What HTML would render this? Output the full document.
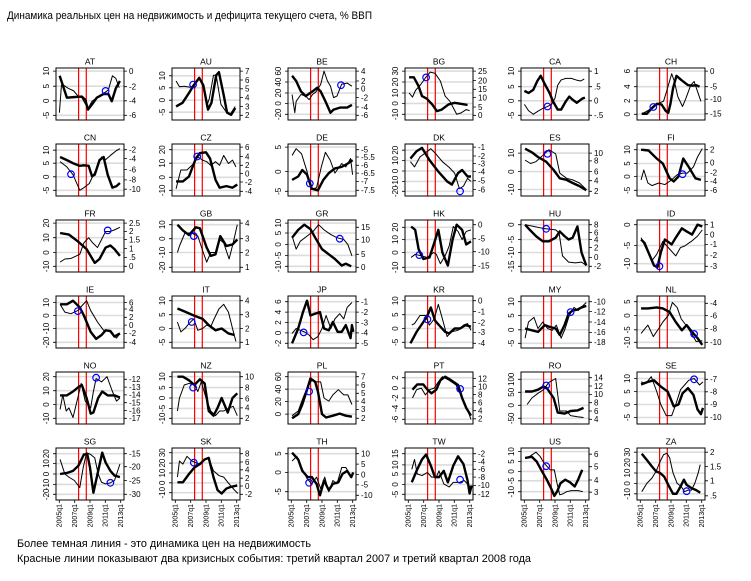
<!DOCTYPE html>
<html><head><meta charset="utf-8">
<style>
html,body{margin:0;padding:0;background:#fff}
svg{display:block}
text{font-family:"Liberation Sans","DejaVu Sans",sans-serif;font-size:8px;fill:#000}
.g{stroke:#dcdcdc;stroke-width:1.6;fill:none}
.r{stroke:#f00;stroke-width:1.2;fill:none}
.b{fill:none;stroke:#000;stroke-width:1}
.tk{stroke:#000;stroke-width:.8;fill:none}
.c{fill:none;stroke:#0000ff;stroke-width:1.2}
.k{fill:none;stroke:#000;stroke-width:2.4;vector-effect:non-scaling-stroke;stroke-linejoin:round}
.t{fill:none;stroke:#000;stroke-width:1;vector-effect:non-scaling-stroke;stroke-linejoin:round}
.l text{text-anchor:middle}
.ti{text-anchor:middle;font-size:8.5px}
.x text{text-anchor:end;font-size:7px}
.big{font-size:11px}
</style></head><body>
<svg width="751" height="581" viewBox="0 0 751 581" xmlns="http://www.w3.org/2000/svg">
<rect width="751" height="581" fill="#fff"/>
<text class="big" x="7" y="19" textLength="365" lengthAdjust="spacingAndGlyphs">Динамика реальных цен на недвижимость и дефицита текущего счета, % ВВП</text>

<!-- ROW 1 -->
<g transform="translate(56,68)">
<path class="g" d="M0 3.1H68M0 18.2H68M0 32.8H68M0 47.3H68"/>
<path class="r" d="M22.6 0V52M30.3 0V52"/>
<svg width="68" height="52" viewBox="0 0 100 100" preserveAspectRatio="none" overflow="visible">
<polyline class="t" points="5,86 8,33 11,33 18,39 26,44 33,55 38,57 47,78 53,64 65,52 72,47 77,42 83,15 88,20 93,38"/>
<polyline class="k" points="5.4,15 16,57 26,56 38,55 43,61 47,80 53,70 60,57 70,50 77,50 82,64 88,39 94,25"/>
</svg>
<circle class="c" cx="49.6" cy="22.9" r="3.3"/>
<rect class="b" width="68" height="52"/>
<path class="tk" d="M-3 3.1H0M-3 18.2H0M-3 32.8H0M-3 47.3H0M68 3.1H71M68 18.7H71M68 32.8H71M68 47.3H71"/>
<text class="ti" x="34" y="-3.5">AT</text>
<g class="l"><text transform="translate(-7,3.1)rotate(-90)">10</text><text transform="translate(-7,18.2)rotate(-90)">5</text><text transform="translate(-7,32.8)rotate(-90)">0</text><text transform="translate(-7,47.3)rotate(-90)">-5</text></g>
<text x="73" y="5.9">0</text><text x="73" y="21.5">-2</text><text x="73" y="35.6">-4</text><text x="73" y="50.1">-6</text>
</g>

<g transform="translate(172,68)">
<path class="g" d="M0 7.8H68M0 19.8H68M0 32.2H68M0 44.2H68"/>
<path class="r" d="M22.6 0V52M30.3 0V52"/>
<svg width="68" height="52" viewBox="0 0 100 100" preserveAspectRatio="none" overflow="visible">
<polyline class="t" points="6,25 11,36 18,35 27,37 33,33 40,20 46,36 51,74 55,58 61,14 65,14 72,70 79,83 86,88 93,74"/>
<polyline class="k" points="6,74 15.5,67 25,48 32,33 40,19 46,33 53,80 58,67 65,14 69,8 76,52 81,86 87,90 93,77"/>
</svg>
<circle class="c" cx="21.1" cy="16.6" r="3.3"/>
<rect class="b" width="68" height="52"/>
<path class="tk" d="M-3 7.8H0M-3 19.8H0M-3 32.2H0M-3 44.2H0M68 3.1H71M68 12H71M68 20.8H71M68 29.6H71M68 38.5H71M68 47.3H71"/>
<text class="ti" x="34" y="-3.5">AU</text>
<g class="l"><text transform="translate(-7,7.8)rotate(-90)">10</text><text transform="translate(-7,19.8)rotate(-90)">5</text><text transform="translate(-7,32.2)rotate(-90)">0</text><text transform="translate(-7,44.2)rotate(-90)">-5</text></g>
<text x="73" y="5.9">7</text><text x="73" y="14.8">6</text><text x="73" y="23.6">5</text><text x="73" y="32.4">4</text><text x="73" y="41.3">3</text><text x="73" y="50.1">2</text>
</g>

<g transform="translate(288,68)">
<path class="g" d="M0 3.1H68M0 14H68M0 25H68M0 35.4H68M0 46.3H68"/>
<path class="r" d="M22.6 0V52M30.3 0V52"/>
<svg width="68" height="52" viewBox="0 0 100 100" preserveAspectRatio="none" overflow="visible">
<polyline class="t" points="6,51 10,86 12,64 19,51 26,54 31,61 36,51 41,46 45,38 48,32 53,6 58,25 62.5,35 67,57 72,54 79,31 87,29 94,35"/>
<polyline class="k" points="6,15 12,25 19,45 26,54 36,45 43,38 48,45 55,64 62.5,86 67,80 77,76 87,76 94,71"/>
</svg>
<circle class="c" cx="53" cy="17.2" r="3.3"/>
<rect class="b" width="68" height="52"/>
<path class="tk" d="M-3 3.1H0M-3 14H0M-3 25H0M-3 35.4H0M-3 46.3H0M68 3.1H71M68 13H71M68 20.8H71M68 29.6H71M68 39H71M68 47.3H71"/>
<text class="ti" x="34" y="-3.5">BE</text>
<g class="l"><text transform="translate(-7,3.1)rotate(-90)">60</text><text transform="translate(-7,14)rotate(-90)">40</text><text transform="translate(-7,25)rotate(-90)">20</text><text transform="translate(-7,35.4)rotate(-90)">0</text><text transform="translate(-7,46.3)rotate(-90)">-20</text></g>
<text x="73" y="5.9">4</text><text x="73" y="15.8">2</text><text x="73" y="23.6">0</text><text x="73" y="32.4">-2</text><text x="73" y="41.8">-4</text><text x="73" y="50.1">-6</text>
</g>

<g transform="translate(405,68)">
<path class="g" d="M0 3.1H68M0 14H68M0 25H68M0 35.4H68M0 46.3H68"/>
<path class="r" d="M22.6 0V52M30.3 0V52"/>
<svg width="68" height="52" viewBox="0 0 100 100" preserveAspectRatio="none" overflow="visible">
<polyline class="t" points="6,48 11,56 15.5,43 23,32 30,19 37,8 44,10 52,25 59,54 66,64 76,89 83,86 90,80 95,82"/>
<polyline class="k" points="6,18 13,18 20,35 25,54 32,59 40,70 47,83 54,80 64,70 73,67 83,69 92,71"/>
</svg>
<circle class="c" cx="21.1" cy="9.4" r="3.3"/>
<rect class="b" width="68" height="52"/>
<path class="tk" d="M-3 3.1H0M-3 14H0M-3 25H0M-3 35.4H0M-3 46.3H0M68 3.1H71M68 12.5H71M68 21.3H71M68 29.6H71M68 39H71M68 47.3H71"/>
<text class="ti" x="34" y="-3.5">BG</text>
<g class="l"><text transform="translate(-7,3.1)rotate(-90)">30</text><text transform="translate(-7,14)rotate(-90)">20</text><text transform="translate(-7,25)rotate(-90)">10</text><text transform="translate(-7,35.4)rotate(-90)">0</text><text transform="translate(-7,46.3)rotate(-90)">-10</text></g>
<text x="73" y="5.9">25</text><text x="73" y="15.3">20</text><text x="73" y="24.1">15</text><text x="73" y="32.4">10</text><text x="73" y="41.8">5</text><text x="73" y="50.1">0</text>
</g>

<g transform="translate(521,68)">
<path class="g" d="M0 3.1H68M0 18.7H68M0 32.8H68M0 47.3H68"/>
<path class="r" d="M22.6 0V52M30.3 0V52"/>
<svg width="68" height="52" viewBox="0 0 100 100" preserveAspectRatio="none" overflow="visible">
<polyline class="t" points="5,70 11,82 18,89 25,83 33,77 39,74 45,70 50,58 54,33 59,23 66,20 74,20 81,23 88,25 93,21"/>
<polyline class="k" points="5,44 11,48 18,42 24,25 29,15 35,31 42,48 47,64 54,80 59,80 66,64 71,55 76,61 82,67 90,59 94,57"/>
</svg>
<circle class="c" cx="26.5" cy="38.5" r="3.3"/>
<rect class="b" width="68" height="52"/>
<path class="tk" d="M-3 3.1H0M-3 18.7H0M-3 32.8H0M-3 47.3H0M68 3.1H71M68 18.7H71M68 32.8H71M68 47.3H71"/>
<text class="ti" x="34" y="-3.5">CA</text>
<g class="l"><text transform="translate(-7,3.1)rotate(-90)">10</text><text transform="translate(-7,18.7)rotate(-90)">5</text><text transform="translate(-7,32.8)rotate(-90)">0</text><text transform="translate(-7,47.3)rotate(-90)">-5</text></g>
<text x="73" y="5.9">1</text><text x="73" y="21.5">.5</text><text x="73" y="35.6">0</text><text x="73" y="50.1">-.5</text>
</g>

<g transform="translate(637,68)">
<path class="g" d="M0 3.1H68M0 18.7H68M0 32.8H68M0 46.3H68"/>
<path class="r" d="M22.6 0V52M30.3 0V52"/>
<svg width="68" height="52" viewBox="0 0 100 100" preserveAspectRatio="none" overflow="visible">
<polyline class="t" points="7,88 14.5,83 22,77 29,69 39,64 43.5,45 51,11 55,26 60,55 67,74 72,58 79,33 84,26 89,45 94,64"/>
<polyline class="k" points="7,88 14.5,88 22,77 29,69 36,70 42.5,83 46,86 49,70 53,39 58,15 65,23 75,33 82,34 87,33 92,36"/>
</svg>
<circle class="c" cx="16.3" cy="39" r="3.3"/>
<rect class="b" width="68" height="52"/>
<path class="tk" d="M-3 3.1H0M-3 18.7H0M-3 32.8H0M-3 46.3H0M68 3.1H71M68 18.7H71M68 31.2H71M68 45.8H71"/>
<text class="ti" x="34" y="-3.5">CH</text>
<g class="l"><text transform="translate(-7,3.1)rotate(-90)">6</text><text transform="translate(-7,18.7)rotate(-90)">4</text><text transform="translate(-7,32.8)rotate(-90)">2</text><text transform="translate(-7,46.3)rotate(-90)">0</text></g>
<text x="73" y="5.9">0</text><text x="73" y="21.5">-5</text><text x="73" y="34">-10</text><text x="73" y="48.6">-15</text>
</g>

<!-- ROW 2 -->
<g transform="translate(56,144)">
<path class="g" d="M0 6.2H68M0 19.2H68M0 32.8H68M0 46.3H68"/>
<path class="r" d="M22.6 0V52M30.3 0V52"/>
<svg width="68" height="52" viewBox="0 0 100 100" preserveAspectRatio="none" overflow="visible">
<polyline class="t" points="6,34 16,44 25,59 35,89 41,84 49,76 54,62 61,44 67,25 73,30 80,22 89,12.5 94,9"/>
<polyline class="k" points="6,25 16,31 25,37 35,42 41,41 48,42 53,62 57,59 64,31 70,25 76,59 83,84 89,81 94,75"/>
</svg>
<circle class="c" cx="15" cy="30.2" r="3.3"/>
<rect class="b" width="68" height="52"/>
<path class="tk" d="M-3 6.2H0M-3 19.2H0M-3 32.8H0M-3 46.3H0M68 5.7H71M68 14.6H71M68 25.5H71M68 35.9H71M68 45.2H71"/>
<text class="ti" x="34" y="-3.5">CN</text>
<g class="l"><text transform="translate(-7,6.2)rotate(-90)">10</text><text transform="translate(-7,19.2)rotate(-90)">5</text><text transform="translate(-7,32.8)rotate(-90)">0</text><text transform="translate(-7,46.3)rotate(-90)">-5</text></g>
<text x="73" y="8.5">-2</text><text x="73" y="17.4">-4</text><text x="73" y="28.3">-6</text><text x="73" y="38.7">-8</text><text x="73" y="48">-10</text>
</g>

<g transform="translate(172,144)">
<path class="g" d="M0 5.7H68M0 19.2H68M0 33.3H68M0 46.3H68"/>
<path class="r" d="M22.6 0V52M30.3 0V52"/>
<svg width="68" height="52" viewBox="0 0 100 100" preserveAspectRatio="none" overflow="visible">
<polyline class="t" points="6,86 13,50 22,50 32,37.5 38,25 45,31 51,34 57,41 64,34 70,41 76,22 83,37.5 89,31 94,44"/>
<polyline class="k" points="6,72 16,72 25,62.5 35,28 41,17.5 50,16 56,28 64,69 70,84 80,81 89,84 96,78"/>
</svg>
<circle class="c" cx="25.2" cy="12.5" r="3.3"/>
<rect class="b" width="68" height="52"/>
<path class="tk" d="M-3 5.7H0M-3 19.2H0M-3 33.3H0M-3 46.3H0M68 3.1H71M68 12.5H71M68 21.3H71M68 29.6H71M68 38H71M68 47.3H71"/>
<text class="ti" x="34" y="-3.5">CZ</text>
<g class="l"><text transform="translate(-7,5.7)rotate(-90)">20</text><text transform="translate(-7,19.2)rotate(-90)">10</text><text transform="translate(-7,33.3)rotate(-90)">0</text><text transform="translate(-7,46.3)rotate(-90)">-10</text></g>
<text x="73" y="5.9">6</text><text x="73" y="15.3">4</text><text x="73" y="24.1">2</text><text x="73" y="32.4">0</text><text x="73" y="40.8">-2</text><text x="73" y="50.1">-4</text>
</g>

<g transform="translate(288,144)">
<path class="g" d="M0 3.1H68M0 27.6H68M0 47.3H68"/>
<path class="r" d="M22.6 0V52M30.3 0V52"/>
<svg width="68" height="52" viewBox="0 0 100 100" preserveAspectRatio="none" overflow="visible">
<polyline class="t" points="6,22 12,9 20,19 28,53 34,87.5 42,84 49,44 55,16 62,31 69,56 79,37.5 85,44 92,28 95,59"/>
<polyline class="k" points="6,69 15,62.5 21,50 28,59 35,86 44,89 52,69 60,56 69,47 79,44 88,37.5 95,31"/>
</svg>
<circle class="c" cx="21.8" cy="39.5" r="3.3"/>
<rect class="b" width="68" height="52"/>
<path class="tk" d="M-3 3.1H0M-3 27.6H0M-3 47.3H0M68 5.7H71M68 13H71M68 21.3H71M68 29.1H71M68 37.4H71M68 46.3H71"/>
<text class="ti" x="34" y="-3.5">DE</text>
<g class="l"><text transform="translate(-7,3.1)rotate(-90)">5</text><text transform="translate(-7,27.6)rotate(-90)">0</text><text transform="translate(-7,47.3)rotate(-90)">-5</text></g>
<text x="73" y="8.5">-5</text><text x="73" y="15.8">-5.5</text><text x="73" y="24.1">-6</text><text x="73" y="31.9">-6.5</text><text x="73" y="40.2">-7</text><text x="73" y="49.1">-7.5</text>
</g>

<g transform="translate(405,144)">
<path class="g" d="M0 6.2H68M0 16.6H68M0 27H68M0 37.4H68M0 47.3H68"/>
<path class="r" d="M22.6 0V52M30.3 0V52"/>
<svg width="68" height="52" viewBox="0 0 100 100" preserveAspectRatio="none" overflow="visible">
<polyline class="t" points="8,34 14,44 22,25 31,16 38,9 46,20 55,34 65,45 73,56 80,86 86,81 92,66 97,72"/>
<polyline class="k" points="8,28 17,14 25,7.5 36,31 49,53 62,72 69,78 78,56 84,50 92,62.5 97,62.5"/>
</svg>
<circle class="c" cx="55.1" cy="47.3" r="3.3"/>
<rect class="b" width="68" height="52"/>
<path class="tk" d="M-3 6.2H0M-3 16.6H0M-3 27H0M-3 37.4H0M-3 47.3H0M68 3.1H71M68 12H71M68 19.5H71M68 27.6H71M68 36.7H71M68 45.5H71"/>
<text class="ti" x="34" y="-3.5">DK</text>
<g class="l"><text transform="translate(-7,6.2)rotate(-90)">20</text><text transform="translate(-7,16.6)rotate(-90)">10</text><text transform="translate(-7,27)rotate(-90)">0</text><text transform="translate(-7,37.4)rotate(-90)">-10</text><text transform="translate(-7,47.3)rotate(-90)">-20</text></g>
<text x="73" y="5.9">-1</text><text x="73" y="14.8">-2</text><text x="73" y="22.3">-3</text><text x="73" y="30.4">-4</text><text x="73" y="39.5">-5</text><text x="73" y="48.3">-6</text>
</g>

<g transform="translate(521,144)">
<path class="g" d="M0 9.1H68M0 27.6H68M0 45.5H68"/>
<path class="r" d="M22.6 0V52M30.3 0V52"/>
<svg width="68" height="52" viewBox="0 0 100 100" preserveAspectRatio="none" overflow="visible">
<polyline class="t" points="6,31 14,37.5 22,34 32,22 41,11 51,19 57,56 67,66 76,69 86,75 96,87.5"/>
<polyline class="k" points="6,9 16,16 25,25 37,34 48,50 57,66 67,69 76,75 86,81 96,89"/>
</svg>
<circle class="c" cx="26.5" cy="9.9" r="3.3"/>
<rect class="b" width="68" height="52"/>
<path class="tk" d="M-3 9.1H0M-3 27.6H0M-3 45.5H0M68 9.1H71M68 16.9H71M68 27.6H71M68 36.7H71M68 47.3H71"/>
<text class="ti" x="34" y="-3.5">ES</text>
<g class="l"><text transform="translate(-7,9.1)rotate(-90)">10</text><text transform="translate(-7,27.6)rotate(-90)">0</text><text transform="translate(-7,45.5)rotate(-90)">-10</text></g>
<text x="73" y="11.9">10</text><text x="73" y="19.7">8</text><text x="73" y="30.4">6</text><text x="73" y="39.5">4</text><text x="73" y="50.1">2</text>
</g>

<g transform="translate(637,144)">
<path class="g" d="M0 5.7H68M0 19.5H68M0 32.5H68M0 46.3H68"/>
<path class="r" d="M22.6 0V52M30.3 0V52"/>
<svg width="68" height="52" viewBox="0 0 100 100" preserveAspectRatio="none" overflow="visible">
<polyline class="t" points="6,69 10,50 16,75 22,80 32,75 41,78 51,69 59,59 67,56 74,56 83,44 89,25 96,9"/>
<polyline class="k" points="6,11 17,12.5 29,28 38,37.5 48,66 54,72 61,62.5 68,28 76,44 86,66 94,69"/>
</svg>
<circle class="c" cx="45.6" cy="30.2" r="3.3"/>
<rect class="b" width="68" height="52"/>
<path class="tk" d="M-3 5.7H0M-3 19.5H0M-3 32.5H0M-3 46.3H0M68 5.7H71M68 18.7H71M68 28.6H71M68 37.4H71M68 46.3H71"/>
<text class="ti" x="34" y="-3.5">FI</text>
<g class="l"><text transform="translate(-7,5.7)rotate(-90)">10</text><text transform="translate(-7,19.5)rotate(-90)">5</text><text transform="translate(-7,32.5)rotate(-90)">0</text><text transform="translate(-7,46.3)rotate(-90)">-5</text></g>
<text x="73" y="8.5">2</text><text x="73" y="21.5">0</text><text x="73" y="31.4">-2</text><text x="73" y="40.2">-4</text><text x="73" y="49.1">-6</text>
</g>

<!-- ROW 3 -->
<g transform="translate(56,220)">
<path class="g" d="M0 3.1H68M0 17.7H68M0 32.5H68M0 46.3H68"/>
<path class="r" d="M22.6 0V52M30.3 0V52"/>
<svg width="68" height="52" viewBox="0 0 100 100" preserveAspectRatio="none" overflow="visible">
<polyline class="t" points="6,81 13,75 22,74 35,66 41,44 48,34 54,44 61,53 67,37.5 73,22 80,22 86,19 94,14"/>
<polyline class="k" points="6,25 19,28 32,41 45,56 57,82.5 64,75 73,53 80,49 86,56 94,69"/>
</svg>
<circle class="c" cx="51.7" cy="10.4" r="3.3"/>
<rect class="b" width="68" height="52"/>
<path class="tk" d="M-3 3.1H0M-3 17.7H0M-3 32.5H0M-3 46.3H0M68 3.1H71M68 11.4H71M68 19.5H71M68 28.6H71M68 37.4H71M68 46.3H71"/>
<text class="ti" x="34" y="-3.5">FR</text>
<g class="l"><text transform="translate(-7,3.1)rotate(-90)">20</text><text transform="translate(-7,17.7)rotate(-90)">10</text><text transform="translate(-7,32.5)rotate(-90)">0</text><text transform="translate(-7,46.3)rotate(-90)">-10</text></g>
<text x="73" y="5.9">2.5</text><text x="73" y="14.2">2</text><text x="73" y="22.3">1.5</text><text x="73" y="31.4">1</text><text x="73" y="40.2">.5</text><text x="73" y="49.1">0</text>
</g>

<g transform="translate(172,220)">
<path class="g" d="M0 4.7H68M0 18.7H68M0 32.5H68M0 47.3H68"/>
<path class="r" d="M22.6 0V52M30.3 0V52"/>
<svg width="68" height="52" viewBox="0 0 100 100" preserveAspectRatio="none" overflow="visible">
<polyline class="t" points="8,62.5 11,50 19,25 29,25 38,31 46,62.5 51,81 57,62.5 64,62.5 70,37.5 76,44 84,75 90,44 96,9"/>
<polyline class="k" points="8,9 16,20 25,29 35,14 41,16 51,53 57,69 64,66 71,31 80,50 89,47 96,37.5"/>
</svg>
<circle class="c" cx="21.8" cy="16.1" r="3.3"/>
<rect class="b" width="68" height="52"/>
<path class="tk" d="M-3 4.7H0M-3 18.7H0M-3 32.5H0M-3 47.3H0M68 3.1H71M68 18.7H71M68 32.5H71M68 47.3H71"/>
<text class="ti" x="34" y="-3.5">GB</text>
<g class="l"><text transform="translate(-7,4.7)rotate(-90)">10</text><text transform="translate(-7,18.7)rotate(-90)">0</text><text transform="translate(-7,32.5)rotate(-90)">-10</text><text transform="translate(-7,47.3)rotate(-90)">-20</text></g>
<text x="73" y="5.9">4</text><text x="73" y="21.5">3</text><text x="73" y="35.3">2</text><text x="73" y="50.1">1</text>
</g>

<g transform="translate(288,220)">
<path class="g" d="M0 3.1H68M0 13H68M0 24.4H68M0 35.4H68M0 46.3H68"/>
<path class="r" d="M22.6 0V52M30.3 0V52"/>
<svg width="68" height="52" viewBox="0 0 100 100" preserveAspectRatio="none" overflow="visible">
<polyline class="t" points="6,31 12,56 18,41 28,31 37,22 45,9 53,19 63,28 72,34 82,37.5 88,47 94,69"/>
<polyline class="k" points="6,34 15,19 24,9 33,17.5 40,34 50,56 60,66 69,75 79,87.5 85,84 93,89"/>
</svg>
<circle class="c" cx="51.7" cy="18.7" r="3.3"/>
<rect class="b" width="68" height="52"/>
<path class="tk" d="M-3 3.1H0M-3 13H0M-3 24.4H0M-3 35.4H0M-3 46.3H0M68 7.3H71M68 19.5H71M68 34.3H71M68 47.3H71"/>
<text class="ti" x="34" y="-3.5">GR</text>
<g class="l"><text transform="translate(-7,3.1)rotate(-90)">10</text><text transform="translate(-7,13)rotate(-90)">5</text><text transform="translate(-7,24.4)rotate(-90)">0</text><text transform="translate(-7,35.4)rotate(-90)">-5</text><text transform="translate(-7,46.3)rotate(-90)">-10</text></g>
<text x="73" y="10.1">15</text><text x="73" y="22.3">10</text><text x="73" y="37.1">5</text><text x="73" y="50.1">0</text>
</g>

<g transform="translate(405,220)">
<path class="g" d="M0 7.3H68M0 19.5H68M0 32.5H68M0 47.3H68"/>
<path class="r" d="M22.6 0V52M30.3 0V52"/>
<svg width="68" height="52" viewBox="0 0 100 100" preserveAspectRatio="none" overflow="visible">
<polyline class="t" points="9,72 15,66 24,69 33,72 42,62.5 46,66 52,84 59,69 65,50 71,12.5 78,22 84,37.5 90,22 97,19"/>
<polyline class="k" points="9,12.5 15,19 20,56 27,75 36,72 43,44 49,19 55,62.5 63,87.5 70,37.5 76,9 84,19 90,47 97,41"/>
</svg>
<circle class="c" cx="14.3" cy="35.1" r="3.3"/>
<rect class="b" width="68" height="52"/>
<path class="tk" d="M-3 7.3H0M-3 19.5H0M-3 32.5H0M-3 47.3H0M68 4.7H71M68 18.7H71M68 31.7H71M68 45.5H71"/>
<text class="ti" x="34" y="-3.5">HK</text>
<g class="l"><text transform="translate(-7,7.3)rotate(-90)">20</text><text transform="translate(-7,19.5)rotate(-90)">10</text><text transform="translate(-7,32.5)rotate(-90)">0</text><text transform="translate(-7,47.3)rotate(-90)">-10</text></g>
<text x="73" y="7.5">0</text><text x="73" y="21.5">-5</text><text x="73" y="34.5">-10</text><text x="73" y="48.3">-15</text>
</g>

<g transform="translate(521,220)">
<path class="g" d="M0 4.7H68M0 19.5H68M0 32.5H68M0 46.3H68"/>
<path class="r" d="M22.6 0V52M30.3 0V52"/>
<svg width="68" height="52" viewBox="0 0 100 100" preserveAspectRatio="none" overflow="visible">
<polyline class="t" points="6,9 19,12.5 32,16 41,17.5 51,19 56,25 61,69 70,81 80,82.5 89,81 96,87.5"/>
<polyline class="k" points="6,9 13,19 22,31 32,41 41,41 51,34 57,22 64,31 70,37.5 76,34 83,12.5 89,62.5 96,87.5"/>
</svg>
<circle class="c" cx="25.2" cy="8.8" r="3.3"/>
<rect class="b" width="68" height="52"/>
<path class="tk" d="M-3 4.7H0M-3 19.5H0M-3 32.5H0M-3 46.3H0M68 4.7H71M68 12.5H71M68 19.5H71M68 27.6H71M68 37.4H71M68 46.3H71"/>
<text class="ti" x="34" y="-3.5">HU</text>
<g class="l"><text transform="translate(-7,4.7)rotate(-90)">0</text><text transform="translate(-7,19.5)rotate(-90)">-5</text><text transform="translate(-7,32.5)rotate(-90)">-10</text><text transform="translate(-7,46.3)rotate(-90)">-15</text></g>
<text x="73" y="7.5">8</text><text x="73" y="15.3">6</text><text x="73" y="22.3">4</text><text x="73" y="30.4">2</text><text x="73" y="40.2">0</text><text x="73" y="49.1">-2</text>
</g>

<g transform="translate(637,220)">
<path class="g" d="M0 4.7H68M0 25.5H68M0 43.7H68"/>
<path class="r" d="M22.6 0V52M30.3 0V52"/>
<svg width="68" height="52" viewBox="0 0 100 100" preserveAspectRatio="none" overflow="visible">
<polyline class="t" points="6,34 16,62.5 22,78 29,66 38,41 48,56 57,69 64,53 70,50 80,41 89,31 96,19"/>
<polyline class="k" points="6,37.5 11,44 19,69 25,87.5 30,91 35,62.5 41,37.5 51,47 57,34 66,16 73,22 81,28 89,9 96,12.5"/>
</svg>
<circle class="c" cx="22.4" cy="46.3" r="3.3"/>
<rect class="b" width="68" height="52"/>
<path class="tk" d="M-3 4.7H0M-3 25.5H0M-3 43.7H0M68 4.7H71M68 14.6H71M68 24.4H71M68 35.1H71M68 46.3H71"/>
<text class="ti" x="34" y="-3.5">ID</text>
<g class="l"><text transform="translate(-7,4.7)rotate(-90)">0</text><text transform="translate(-7,25.5)rotate(-90)">-5</text><text transform="translate(-7,43.7)rotate(-90)">-10</text></g>
<text x="73" y="7.5">1</text><text x="73" y="17.4">0</text><text x="73" y="27.2">-1</text><text x="73" y="37.9">-2</text><text x="73" y="49.1">-3</text>
</g>

<!-- ROW 4 -->
<g transform="translate(56,296)">
<path class="g" d="M0 6.5H68M0 19.5H68M0 32.5H68M0 46.3H68"/>
<path class="r" d="M22.6 0V52M30.3 0V52"/>
<svg width="68" height="52" viewBox="0 0 100 100" preserveAspectRatio="none" overflow="visible">
<polyline class="t" points="6,16 13,31 22,34 32,28 38,19 45,9 51,28 61,50 70,66 76,66 83,72 89,81 94,72"/>
<polyline class="k" points="6,16 16,16 25,9 35,22 41,37.5 51,69 59,82.5 67,75 73,66 80,67.5 86,78 94,72"/>
</svg>
<circle class="c" cx="21.8" cy="15.1" r="3.3"/>
<rect class="b" width="68" height="52"/>
<path class="tk" d="M-3 6.5H0M-3 19.5H0M-3 32.5H0M-3 46.3H0M68 6.5H71M68 13H71M68 21.3H71M68 29.1H71M68 37.4H71M68 46.3H71"/>
<text class="ti" x="34" y="-3.5">IE</text>
<g class="l"><text transform="translate(-7,6.5)rotate(-90)">10</text><text transform="translate(-7,19.5)rotate(-90)">0</text><text transform="translate(-7,32.5)rotate(-90)">-10</text><text transform="translate(-7,46.3)rotate(-90)">-20</text></g>
<text x="73" y="9.3">6</text><text x="73" y="15.8">4</text><text x="73" y="24.1">2</text><text x="73" y="31.9">0</text><text x="73" y="40.2">-2</text><text x="73" y="49.1">-4</text>
</g>

<g transform="translate(172,296)">
<path class="g" d="M0 4.7H68M0 18.7H68M0 32.5H68M0 46.3H68"/>
<path class="r" d="M22.6 0V52M30.3 0V52"/>
<svg width="68" height="52" viewBox="0 0 100 100" preserveAspectRatio="none" overflow="visible">
<polyline class="t" points="8,50 13,69 19,62.5 25,53 32,44 38,66 45,62.5 51,56 57,59 62,44 69,25 76,16 83,31 89,62.5 94,87.5"/>
<polyline class="k" points="8,24 19,30 32,37.5 45,44 54,56 64,66 73,62.5 83,72 92,75"/>
</svg>
<circle class="c" cx="19.7" cy="26" r="3.3"/>
<rect class="b" width="68" height="52"/>
<path class="tk" d="M-3 4.7H0M-3 18.7H0M-3 32.5H0M-3 46.3H0M68 4.7H71M68 18.7H71M68 32.5H71M68 46.3H71"/>
<text class="ti" x="34" y="-3.5">IT</text>
<g class="l"><text transform="translate(-7,4.7)rotate(-90)">10</text><text transform="translate(-7,18.7)rotate(-90)">5</text><text transform="translate(-7,32.5)rotate(-90)">0</text><text transform="translate(-7,46.3)rotate(-90)">-5</text></g>
<text x="73" y="7.5">4</text><text x="73" y="21.5">3</text><text x="73" y="35.3">2</text><text x="73" y="49.1">1</text>
</g>

<g transform="translate(288,296)">
<path class="g" d="M0 5.7H68M0 16.1H68M0 26.5H68M0 36.9H68M0 47.3H68"/>
<path class="r" d="M22.6 0V52M30.3 0V52"/>
<svg width="68" height="52" viewBox="0 0 100 100" preserveAspectRatio="none" overflow="visible">
<polyline class="t" points="6,72 12,62.5 18,66 24,69 31,75 37,84 44,78 50,62.5 56,37.5 63,62.5 69,44 76,34 82,44 87,22 94,12.5"/>
<polyline class="k" points="6,91 15,62.5 22,31 28,9 33,37.5 40,34 47,31 53,62.5 60,66 66,50 73,69 79,69 85,56 92,81 94,56 96,69"/>
</svg>
<circle class="c" cx="15.6" cy="36.4" r="3.3"/>
<rect class="b" width="68" height="52"/>
<path class="tk" d="M-3 5.7H0M-3 16.1H0M-3 26.5H0M-3 36.9H0M-3 47.3H0M68 5.7H71M68 16.1H71M68 26.5H71M68 36.9H71M68 47.3H71"/>
<text class="ti" x="34" y="-3.5">JP</text>
<g class="l"><text transform="translate(-7,5.7)rotate(-90)">6</text><text transform="translate(-7,16.1)rotate(-90)">4</text><text transform="translate(-7,26.5)rotate(-90)">2</text><text transform="translate(-7,36.9)rotate(-90)">0</text><text transform="translate(-7,47.3)rotate(-90)">-2</text></g>
<text x="73" y="8.5">-1</text><text x="73" y="18.9">-2</text><text x="73" y="29.3">-3</text><text x="73" y="39.7">-4</text><text x="73" y="50.1">-5</text>
</g>

<g transform="translate(405,296)">
<path class="g" d="M0 4.7H68M0 18.7H68M0 32.5H68M0 46.3H68"/>
<path class="r" d="M22.6 0V52M30.3 0V52"/>
<svg width="68" height="52" viewBox="0 0 100 100" preserveAspectRatio="none" overflow="visible">
<polyline class="t" points="10,56 14,53 22,37.5 30,37.5 36,56 43,44 49,16 55,44 62,78 68,69 78,66 86,56 92,53 97,66"/>
<polyline class="k" points="8,91 17,69 27,50 33,37.5 38,22 44,47 50,56 59,69 65,72 73,62.5 81,62.5 89,56 97,59"/>
</svg>
<circle class="c" cx="22.4" cy="23.4" r="3.3"/>
<rect class="b" width="68" height="52"/>
<path class="tk" d="M-3 4.7H0M-3 18.7H0M-3 32.5H0M-3 46.3H0M68 4.7H71M68 15.6H71M68 26.5H71M68 36.4H71M68 47.3H71"/>
<text class="ti" x="34" y="-3.5">KR</text>
<g class="l"><text transform="translate(-7,4.7)rotate(-90)">10</text><text transform="translate(-7,18.7)rotate(-90)">5</text><text transform="translate(-7,32.5)rotate(-90)">0</text><text transform="translate(-7,46.3)rotate(-90)">-5</text></g>
<text x="73" y="7.5">0</text><text x="73" y="18.4">-1</text><text x="73" y="29.3">-2</text><text x="73" y="39.2">-3</text><text x="73" y="50.1">-4</text>
</g>

<g transform="translate(521,296)">
<path class="g" d="M0 5.7H68M0 19.5H68M0 33.8H68M0 47.3H68"/>
<path class="r" d="M22.6 0V52M30.3 0V52"/>
<svg width="68" height="52" viewBox="0 0 100 100" preserveAspectRatio="none" overflow="visible">
<polyline class="t" points="6,81 11,50 19,41 25,62.5 32,50 39,62.5 46,66 52,56 59,81 65,62.5 71,37.5 78,22 84,28 90,20 96,12.5"/>
<polyline class="k" points="6,62.5 16,66 25,69 35,56 41,59 51,62.5 57,75 64,56 70,34 76,28 83,26 89,22 96,19"/>
</svg>
<circle class="c" cx="49.6" cy="16.1" r="3.3"/>
<rect class="b" width="68" height="52"/>
<path class="tk" d="M-3 5.7H0M-3 19.5H0M-3 33.8H0M-3 47.3H0M68 5.7H71M68 15.6H71M68 26H71M68 36.4H71M68 46.3H71"/>
<text class="ti" x="34" y="-3.5">MY</text>
<g class="l"><text transform="translate(-7,5.7)rotate(-90)">10</text><text transform="translate(-7,19.5)rotate(-90)">5</text><text transform="translate(-7,33.8)rotate(-90)">0</text><text transform="translate(-7,47.3)rotate(-90)">-5</text></g>
<text x="73" y="8.5">-10</text><text x="73" y="18.4">-12</text><text x="73" y="28.8">-14</text><text x="73" y="39.2">-16</text><text x="73" y="49.1">-18</text>
</g>

<g transform="translate(637,296)">
<path class="g" d="M0 5.7H68M0 19.5H68M0 33.8H68M0 46.3H68"/>
<path class="r" d="M22.6 0V52M30.3 0V52"/>
<svg width="68" height="52" viewBox="0 0 100 100" preserveAspectRatio="none" overflow="visible">
<polyline class="t" points="6,72 16,56 24,78 32,62.5 38,50 46,37.5 52,12.5 59,22 65,44 72,56 80,72 87,87.5 96,86"/>
<polyline class="k" points="6,24 16,24 29,22 38,24 48,31 57,50 66,66 73,56 81,69 89,81 96,94"/>
</svg>
<circle class="c" cx="57.1" cy="38" r="3.3"/>
<rect class="b" width="68" height="52"/>
<path class="tk" d="M-3 5.7H0M-3 19.5H0M-3 33.8H0M-3 46.3H0M68 7.3H71M68 19.5H71M68 32.5H71M68 46.3H71"/>
<text class="ti" x="34" y="-3.5">NL</text>
<g class="l"><text transform="translate(-7,5.7)rotate(-90)">5</text><text transform="translate(-7,19.5)rotate(-90)">0</text><text transform="translate(-7,33.8)rotate(-90)">-5</text><text transform="translate(-7,46.3)rotate(-90)">-10</text></g>
<text x="73" y="10.1">-4</text><text x="73" y="22.3">-6</text><text x="73" y="35.3">-8</text><text x="73" y="49.1">-10</text>
</g>

<!-- ROW 5 -->
<g transform="translate(56,372)">
<path class="g" d="M0 4.7H68M0 18.7H68M0 32.5H68M0 46.3H68"/>
<path class="r" d="M22.6 0V52M30.3 0V52"/>
<svg width="68" height="52" viewBox="0 0 100 100" preserveAspectRatio="none" overflow="visible">
<polyline class="t" points="6,72 10,44 15,75 19,69 25,87.5 32,50 37,22 43,56 51,69 55,37.5 59,12.5 67,19 75,9 83,37.5 89,56 94,50"/>
<polyline class="k" points="6,45 16,45 25,37.5 34,28 38,25 45,50 51,80 55,78 62,50 68,37.5 76,45 86,45 94,49"/>
</svg>
<circle class="c" cx="40.1" cy="5.7" r="3.3"/>
<rect class="b" width="68" height="52"/>
<path class="tk" d="M-3 4.7H0M-3 18.7H0M-3 32.5H0M-3 46.3H0M68 7.3H71M68 15.1H71M68 22.9H71M68 30.7H71M68 38.5H71M68 46.3H71"/>
<text class="ti" x="34" y="-3.5">NO</text>
<g class="l"><text transform="translate(-7,4.7)rotate(-90)">20</text><text transform="translate(-7,18.7)rotate(-90)">10</text><text transform="translate(-7,32.5)rotate(-90)">0</text><text transform="translate(-7,46.3)rotate(-90)">-10</text></g>
<text x="73" y="10.1">-12</text><text x="73" y="17.9">-13</text><text x="73" y="25.7">-14</text><text x="73" y="33.5">-15</text><text x="73" y="41.3">-16</text><text x="73" y="49.1">-17</text>
</g>

<g transform="translate(172,372)">
<path class="g" d="M0 4.7H68M0 15.6H68M0 26H68M0 36.4H68M0 46.3H68"/>
<path class="r" d="M22.6 0V52M30.3 0V52"/>
<svg width="68" height="52" viewBox="0 0 100 100" preserveAspectRatio="none" overflow="visible">
<polyline class="t" points="8,75 11,50 18,25 25,22 33,25 38,37.5 43,19 50,50 57,75 64,84 70,75 76,75 84,69 90,66 96,84"/>
<polyline class="k" points="8,9 16,9 25,16 33,25 41,14 48,22 54,75 61,84 67,69 73,50 82,78 89,50 96,41"/>
</svg>
<circle class="c" cx="21.1" cy="15.6" r="3.3"/>
<rect class="b" width="68" height="52"/>
<path class="tk" d="M-3 4.7H0M-3 15.6H0M-3 26H0M-3 36.4H0M-3 46.3H0M68 4.7H71M68 15.6H71M68 26.5H71M68 35.9H71M68 46.3H71"/>
<text class="ti" x="34" y="-3.5">NZ</text>
<g class="l"><text transform="translate(-7,4.7)rotate(-90)">10</text><text transform="translate(-7,15.6)rotate(-90)">5</text><text transform="translate(-7,26)rotate(-90)">0</text><text transform="translate(-7,36.4)rotate(-90)">-5</text><text transform="translate(-7,46.3)rotate(-90)">-10</text></g>
<text x="73" y="7.5">10</text><text x="73" y="18.4">8</text><text x="73" y="29.3">6</text><text x="73" y="38.7">4</text><text x="73" y="49.1">2</text>
</g>

<g transform="translate(288,372)">
<path class="g" d="M0 4.7H68M0 17.2H68M0 29.6H68M0 42.1H68"/>
<path class="r" d="M22.6 0V52M30.3 0V52"/>
<svg width="68" height="52" viewBox="0 0 100 100" preserveAspectRatio="none" overflow="visible">
<polyline class="t" points="6,84 15,75 22,50 29,28 35,16 42,19 48,19 53,50 60,56 66,44 74,34 82,44 88,44 94,62.5"/>
<polyline class="k" points="6,89 15,81 21,62.5 28,34 33,12.5 40,19 44,37.5 50,81 56,87.5 66,84 76,80 85,84 94,86"/>
</svg>
<circle class="c" cx="21.1" cy="19.5" r="3.3"/>
<rect class="b" width="68" height="52"/>
<path class="tk" d="M-3 4.7H0M-3 17.2H0M-3 29.6H0M-3 42.1H0M68 4.7H71M68 13H71M68 21.3H71M68 29.1H71M68 37.4H71M68 46.3H71"/>
<text class="ti" x="34" y="-3.5">PL</text>
<g class="l"><text transform="translate(-7,4.7)rotate(-90)">60</text><text transform="translate(-7,17.2)rotate(-90)">40</text><text transform="translate(-7,29.6)rotate(-90)">20</text><text transform="translate(-7,42.1)rotate(-90)">0</text></g>
<text x="73" y="7.5">7</text><text x="73" y="15.8">6</text><text x="73" y="24.1">5</text><text x="73" y="31.9">4</text><text x="73" y="40.2">3</text><text x="73" y="49.1">2</text>
</g>

<g transform="translate(405,372)">
<path class="g" d="M0 5.7H68M0 16.1H68M0 26H68M0 36.4H68M0 47.3H68"/>
<path class="r" d="M22.6 0V52M30.3 0V52"/>
<svg width="68" height="52" viewBox="0 0 100 100" preserveAspectRatio="none" overflow="visible">
<polyline class="t" points="11,50 17,34 24,31 30,44 36,34 43,31 49,19 55,9 65,16 75,25 82,44 89,62.5 97,91"/>
<polyline class="k" points="11,34 18,24 27,24 33,34 39,41 46,34 52,16 59,9 68,16 78,25 84,50 90,69 97,84"/>
</svg>
<circle class="c" cx="55.1" cy="16.9" r="3.3"/>
<rect class="b" width="68" height="52"/>
<path class="tk" d="M-3 5.7H0M-3 16.1H0M-3 26H0M-3 36.4H0M-3 47.3H0M68 6.5H71M68 14.6H71M68 22.6H71M68 30.7H71M68 38.7H71M68 46.8H71"/>
<text class="ti" x="34" y="-3.5">PT</text>
<g class="l"><text transform="translate(-7,5.7)rotate(-90)">2</text><text transform="translate(-7,16.1)rotate(-90)">0</text><text transform="translate(-7,26)rotate(-90)">-2</text><text transform="translate(-7,36.4)rotate(-90)">-4</text><text transform="translate(-7,47.3)rotate(-90)">-6</text></g>
<text x="73" y="9.3">12</text><text x="73" y="17.4">10</text><text x="73" y="25.4">8</text><text x="73" y="33.5">6</text><text x="73" y="41.5">4</text><text x="73" y="49.6">2</text>
</g>

<g transform="translate(521,372)">
<path class="g" d="M0 7.3H68M0 20.3H68M0 33.3H68M0 46.3H68"/>
<path class="r" d="M22.6 0V52M30.3 0V52"/>
<svg width="68" height="52" viewBox="0 0 100 100" preserveAspectRatio="none" overflow="visible">
<polyline class="t" points="9,62.5 16,50 25,41 33,34 41,20 51,12.5 57,75 67,75 73,84 83,86 92,87.5"/>
<polyline class="k" points="6,37.5 16,37.5 25,34 33,28 38,31 48,50 54,78 64,80 73,75 83,74 92,69"/>
</svg>
<circle class="c" cx="25.2" cy="13.5" r="3.3"/>
<rect class="b" width="68" height="52"/>
<path class="tk" d="M-3 7.3H0M-3 20.3H0M-3 33.3H0M-3 46.3H0M68 5.7H71M68 14H71M68 22.4H71M68 30.7H71M68 39H71M68 47.3H71"/>
<text class="ti" x="34" y="-3.5">RO</text>
<g class="l"><text transform="translate(-7,7.3)rotate(-90)">100</text><text transform="translate(-7,20.3)rotate(-90)">50</text><text transform="translate(-7,33.3)rotate(-90)">0</text><text transform="translate(-7,46.3)rotate(-90)">-50</text></g>
<text x="73" y="8.5">14</text><text x="73" y="16.8">12</text><text x="73" y="25.2">10</text><text x="73" y="33.5">8</text><text x="73" y="41.8">6</text><text x="73" y="50.1">4</text>
</g>

<g transform="translate(637,372)">
<path class="g" d="M0 6.5H68M0 19.5H68M0 32.5H68M0 45.5H68"/>
<path class="r" d="M22.6 0V52M30.3 0V52"/>
<svg width="68" height="52" viewBox="0 0 100 100" preserveAspectRatio="none" overflow="visible">
<polyline class="t" points="6,19 13,22 21,9 29,37.5 35,62.5 43,84 51,84 57,62.5 64,34 70,25 76,16 84,12.5 92,25 97,19"/>
<polyline class="k" points="6,24 16,19 25,16 35,28 45,37.5 54,66 61,62.5 67,41 75,31 83,44 89,72 94,81 97,69"/>
</svg>
<circle class="c" cx="57.1" cy="7.3" r="3.3"/>
<rect class="b" width="68" height="52"/>
<path class="tk" d="M-3 6.5H0M-3 19.5H0M-3 32.5H0M-3 45.5H0M68 7.3H71M68 19.8H71M68 32.2H71M68 45.2H71"/>
<text class="ti" x="34" y="-3.5">SE</text>
<g class="l"><text transform="translate(-7,6.5)rotate(-90)">10</text><text transform="translate(-7,19.5)rotate(-90)">5</text><text transform="translate(-7,32.5)rotate(-90)">0</text><text transform="translate(-7,45.5)rotate(-90)">-5</text></g>
<text x="73" y="10.1">-7</text><text x="73" y="22.6">-8</text><text x="73" y="35">-9</text><text x="73" y="48">-10</text>
</g>

<!-- ROW 6 -->
<g transform="translate(56,448)">
<path class="g" d="M0 5.7H68M0 15.6H68M0 26H68M0 36.4H68M0 46.3H68"/>
<path class="r" d="M22.6 0V52M30.3 0V52"/>
<svg width="68" height="52" viewBox="0 0 100 100" preserveAspectRatio="none" overflow="visible">
<polyline class="t" points="6,22 13,50 19,56 27,62.5 35,76 40,37.5 45,9 51,12.5 57,19 62,50 67,66 73,69 80,67 86,62.5 94,31"/>
<polyline class="k" points="6,50 16,48 25,44 33,34 41,12.5 46,12 50,37.5 55,86 61,50 68,9 73,28 80,44 86,53 94,56"/>
</svg>
<circle class="c" cx="54.4" cy="34.8" r="3.3"/>
<rect class="b" width="68" height="52"/>
<path class="tk" d="M-3 5.7H0M-3 15.6H0M-3 26H0M-3 36.4H0M-3 46.3H0M68 5.7H71M68 18.7H71M68 32.5H71M68 46.3H71M3.3 52V55M18.7 52V55M34 52V55M49.3 52V55M64.7 52V55"/>
<text class="ti" x="34" y="-3.5">SG</text>
<g class="l"><text transform="translate(-7,5.7)rotate(-90)">20</text><text transform="translate(-7,15.6)rotate(-90)">10</text><text transform="translate(-7,26)rotate(-90)">0</text><text transform="translate(-7,36.4)rotate(-90)">-10</text><text transform="translate(-7,46.3)rotate(-90)">-20</text></g>
<text x="73" y="8.5">-15</text><text x="73" y="21.5">-20</text><text x="73" y="35.3">-25</text><text x="73" y="49.1">-30</text>
<g class="x"><text transform="translate(5.7,56)rotate(-90)">2005q1</text><text transform="translate(21.1,56)rotate(-90)">2007q1</text><text transform="translate(36.4,56)rotate(-90)">2009q1</text><text transform="translate(51.7,56)rotate(-90)">2011q1</text><text transform="translate(67.1,56)rotate(-90)">2013q1</text></g>
</g>

<g transform="translate(172,448)">
<path class="g" d="M0 4.7H68M0 15.1H68M0 25H68M0 34.8H68M0 44.7H68"/>
<path class="r" d="M22.6 0V52M30.3 0V52"/>
<svg width="68" height="52" viewBox="0 0 100 100" preserveAspectRatio="none" overflow="visible">
<polyline class="t" points="8,56 11,25 16,31 22,16 29,25 35,28 41,31 48,22 54,19 61,44 69,53 76,56 84,69 92,81 97,87.5"/>
<polyline class="k" points="8,66 16,66 25,50 33,37.5 41,31 48,22 54,19 61,56 67,81 73,87.5 80,78 86,75 96,72"/>
</svg>
<circle class="c" cx="21.8" cy="14.6" r="3.3"/>
<rect class="b" width="68" height="52"/>
<path class="tk" d="M-3 4.7H0M-3 15.1H0M-3 25H0M-3 34.8H0M-3 44.7H0M68 5.7H71M68 14H71M68 21.8H71M68 30.2H71M68 38H71M68 46.3H71M3.3 52V55M18.7 52V55M34 52V55M49.3 52V55M64.7 52V55"/>
<text class="ti" x="34" y="-3.5">SK</text>
<g class="l"><text transform="translate(-7,4.7)rotate(-90)">30</text><text transform="translate(-7,15.1)rotate(-90)">20</text><text transform="translate(-7,25)rotate(-90)">10</text><text transform="translate(-7,34.8)rotate(-90)">0</text><text transform="translate(-7,44.7)rotate(-90)">-10</text></g>
<text x="73" y="8.5">8</text><text x="73" y="16.8">6</text><text x="73" y="24.6">4</text><text x="73" y="33">2</text><text x="73" y="40.8">0</text><text x="73" y="49.1">-2</text>
<g class="x"><text transform="translate(5.7,56)rotate(-90)">2005q1</text><text transform="translate(21.1,56)rotate(-90)">2007q1</text><text transform="translate(36.4,56)rotate(-90)">2009q1</text><text transform="translate(51.7,56)rotate(-90)">2011q1</text><text transform="translate(67.1,56)rotate(-90)">2013q1</text></g>
</g>

<g transform="translate(288,448)">
<path class="g" d="M0 5.7H68M0 24.4H68M0 43.7H68"/>
<path class="r" d="M22.6 0V52M30.3 0V52"/>
<svg width="68" height="52" viewBox="0 0 100 100" preserveAspectRatio="none" overflow="visible">
<polyline class="t" points="6,25 13,16 20,37.5 28,59 35,69 42,56 48,78 54,56 60,84 66,62.5 72,69 79,37.5 85,37.5 92,53 96,50"/>
<polyline class="k" points="6,9 15,22 21,44 29,56 35,56 42,69 47,91 53,62.5 60,81 66,69 74,66 80,50 87,44 93,56 96,47"/>
</svg>
<circle class="c" cx="21.1" cy="34.8" r="3.3"/>
<rect class="b" width="68" height="52"/>
<path class="tk" d="M-3 5.7H0M-3 24.4H0M-3 43.7H0M68 5.7H71M68 16.1H71M68 26.5H71M68 36.9H71M68 47.3H71M3.3 52V55M18.7 52V55M34 52V55M49.3 52V55M64.7 52V55"/>
<text class="ti" x="34" y="-3.5">TH</text>
<g class="l"><text transform="translate(-7,5.7)rotate(-90)">5</text><text transform="translate(-7,24.4)rotate(-90)">0</text><text transform="translate(-7,43.7)rotate(-90)">-5</text></g>
<text x="73" y="8.5">10</text><text x="73" y="18.9">5</text><text x="73" y="29.3">0</text><text x="73" y="39.7">-5</text><text x="73" y="50.1">-10</text>
<g class="x"><text transform="translate(5.7,56)rotate(-90)">2005q1</text><text transform="translate(21.1,56)rotate(-90)">2007q1</text><text transform="translate(36.4,56)rotate(-90)">2009q1</text><text transform="translate(51.7,56)rotate(-90)">2011q1</text><text transform="translate(67.1,56)rotate(-90)">2013q1</text></g>
</g>

<g transform="translate(405,448)">
<path class="g" d="M0 5.7H68M0 16.9H68M0 26H68M0 36.4H68M0 46.3H68"/>
<path class="r" d="M22.6 0V52M30.3 0V52"/>
<svg width="68" height="52" viewBox="0 0 100 100" preserveAspectRatio="none" overflow="visible">
<polyline class="t" points="10,41 14,22 18,50 25,53 33,47 39,56 46,56 50,44 57,69 65,75 71,66 80,66 87,62.5 94,72 97,78"/>
<polyline class="k" points="10,66 17,44 25,22 31,12.5 38,34 44,56 50,56 57,44 63,66 71,34 78,16 86,31 92,62.5 95,87.5 98,72"/>
</svg>
<circle class="c" cx="55.1" cy="31.7" r="3.3"/>
<rect class="b" width="68" height="52"/>
<path class="tk" d="M-3 5.7H0M-3 16.9H0M-3 26H0M-3 36.4H0M-3 46.3H0M68 5.7H71M68 13.5H71M68 21.3H71M68 29.1H71M68 37.4H71M68 46.3H71M3.3 52V55M18.7 52V55M34 52V55M49.3 52V55M64.7 52V55"/>
<text class="ti" x="34" y="-3.5">TW</text>
<g class="l"><text transform="translate(-7,5.7)rotate(-90)">15</text><text transform="translate(-7,16.9)rotate(-90)">10</text><text transform="translate(-7,26)rotate(-90)">5</text><text transform="translate(-7,36.4)rotate(-90)">0</text><text transform="translate(-7,46.3)rotate(-90)">-5</text></g>
<text x="73" y="8.5">-2</text><text x="73" y="16.3">-4</text><text x="73" y="24.1">-6</text><text x="73" y="31.9">-8</text><text x="73" y="40.2">-10</text><text x="73" y="49.1">-12</text>
<g class="x"><text transform="translate(5.7,56)rotate(-90)">2005q1</text><text transform="translate(21.1,56)rotate(-90)">2007q1</text><text transform="translate(36.4,56)rotate(-90)">2009q1</text><text transform="translate(51.7,56)rotate(-90)">2011q1</text><text transform="translate(67.1,56)rotate(-90)">2013q1</text></g>
</g>

<g transform="translate(521,448)">
<path class="g" d="M0 3.6H68M0 13.5H68M0 23.4H68M0 32.8H68M0 43.7H68"/>
<path class="r" d="M22.6 0V52M30.3 0V52"/>
<svg width="68" height="52" viewBox="0 0 100 100" preserveAspectRatio="none" overflow="visible">
<polyline class="t" points="6,19 13,16 22,8 28,16 34,29 38,35 43,42 49,42 53,68 57,90 62,88 67,84 74,82 84,82 91,84"/>
<polyline class="k" points="6,19 16,17 23,26 31,45 38,61 44,77 49,92 53,84 58,68 65,61 72,66 79,74 84,61 90,42"/>
</svg>
<circle class="c" cx="25.2" cy="18.2" r="3.3"/>
<rect class="b" width="68" height="52"/>
<path class="tk" d="M-3 3.6H0M-3 13.5H0M-3 23.4H0M-3 32.8H0M-3 43.7H0M68 6.2H71M68 18.7H71M68 32H71M68 44.2H71M3.3 52V55M18.7 52V55M34 52V55M49.3 52V55M64.7 52V55"/>
<text class="ti" x="34" y="-3.5">US</text>
<g class="l"><text transform="translate(-7,3.6)rotate(-90)">10</text><text transform="translate(-7,13.5)rotate(-90)">5</text><text transform="translate(-7,23.4)rotate(-90)">0</text><text transform="translate(-7,32.8)rotate(-90)">-5</text><text transform="translate(-7,43.7)rotate(-90)">-10</text></g>
<text x="73" y="9">6</text><text x="73" y="21.5">5</text><text x="73" y="34.8">4</text><text x="73" y="47">3</text>
<g class="x"><text transform="translate(5.7,56)rotate(-90)">2005q1</text><text transform="translate(21.1,56)rotate(-90)">2007q1</text><text transform="translate(36.4,56)rotate(-90)">2009q1</text><text transform="translate(51.7,56)rotate(-90)">2011q1</text><text transform="translate(67.1,56)rotate(-90)">2013q1</text></g>
</g>

<g transform="translate(637,448)">
<path class="g" d="M0 4.2H68M0 14.6H68M0 25H68M0 35.4H68M0 45.8H68"/>
<path class="r" d="M22.6 0V52M30.3 0V52"/>
<svg width="68" height="52" viewBox="0 0 100 100" preserveAspectRatio="none" overflow="visible">
<polyline class="t" points="7,84 14.5,68 22,58 28,45 34,26 39,13 44,10 48,19 53,48 59,68 65,74 70,84 75,81 80,81 85,68 90,48 93,32"/>
<polyline class="k" points="7,11 14.5,23 22,35.5 28,45 34,48 40,55 46,71 53,88 58,88 64,74 69,61 73,71 80,77 87,81 93,86"/>
</svg>
<circle class="c" cx="49.6" cy="43.2" r="3.3"/>
<rect class="b" width="68" height="52"/>
<path class="tk" d="M-3 4.2H0M-3 14.6H0M-3 25H0M-3 35.4H0M-3 45.8H0M68 4.2H71M68 18.5H71M68 32.8H71M68 47.8H71M3.3 52V55M18.7 52V55M34 52V55M49.3 52V55M64.7 52V55"/>
<text class="ti" x="34" y="-3.5">ZA</text>
<g class="l"><text transform="translate(-7,4.2)rotate(-90)">30</text><text transform="translate(-7,14.6)rotate(-90)">20</text><text transform="translate(-7,25)rotate(-90)">10</text><text transform="translate(-7,35.4)rotate(-90)">0</text><text transform="translate(-7,45.8)rotate(-90)">-10</text></g>
<text x="73" y="7">2</text><text x="73" y="21.3">1.5</text><text x="73" y="35.6">1</text><text x="73" y="50.6">.5</text>
<g class="x"><text transform="translate(5.7,56)rotate(-90)">2005q1</text><text transform="translate(21.1,56)rotate(-90)">2007q1</text><text transform="translate(36.4,56)rotate(-90)">2009q1</text><text transform="translate(51.7,56)rotate(-90)">2011q1</text><text transform="translate(67.1,56)rotate(-90)">2013q1</text></g>
</g>

<text class="big" x="17" y="547" textLength="294" lengthAdjust="spacingAndGlyphs">Более темная линия - это динамика цен на недвижимость</text>
<text class="big" x="17" y="562" textLength="514" lengthAdjust="spacingAndGlyphs">Красные линии показывают два кризисных события: третий квартал 2007 и третий квартал 2008 года</text>
</svg>
</body></html>
